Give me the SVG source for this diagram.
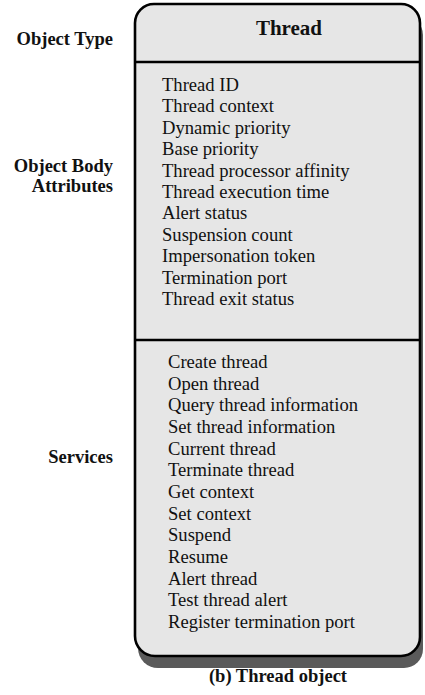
<svg xmlns="http://www.w3.org/2000/svg" width="425" height="695" viewBox="0 0 425 695">
  <style>
    .lbl { font-family: "Liberation Serif", "Times New Roman", serif; font-size: 18.5px; font-weight: bold; fill: #111; }
    .item { font-family: "Liberation Serif", "Times New Roman", serif; font-size: 18.6px; fill: #111; }
    .title { font-family: "Liberation Serif", "Times New Roman", serif; font-size: 21px; font-weight: bold; fill: #111; }
    .frame { fill: #e6e6e6; stroke: #000; stroke-width: 2.6; }
    .rule { stroke: #000; stroke-width: 2.6; }
  </style>
  <defs>
    <path id="outline" d="M135,23 A19,19 0 0 1 154,4 L401,4 A19,19 0 0 1 420,23 L420,637 A19,19 0 0 1 401,656 L155,656 A20,20 0 0 1 135,636 Z"/>
  </defs>
  <rect width="425" height="695" fill="#fff"/>

  <!-- section captions on the left -->
  <g id="captions" class="lbl" text-anchor="end">
    <text x="113" y="45">Object Type</text>
    <text x="113" y="172">Object Body</text>
    <text x="113" y="192">Attributes</text>
    <text x="113" y="463">Services</text>
  </g>

  <!-- the object box with its drop shadow -->
  <g id="thread-object">
    <use href="#outline" transform="translate(3,12)" fill="#5a5a5a"/>
    <use href="#outline" class="frame"/>
    <line class="rule" x1="135" y1="62" x2="420" y2="62"/>
    <line class="rule" x1="135" y1="340" x2="420" y2="340"/>
    <text class="title" x="289" y="35" text-anchor="middle">Thread</text>
  </g>

  <g id="attributes" class="item">
    <text x="162" y="91">Thread ID</text>
    <text x="162" y="112.4">Thread context</text>
    <text x="162" y="133.8">Dynamic priority</text>
    <text x="162" y="155.2">Base priority</text>
    <text x="162" y="176.6">Thread processor affinity</text>
    <text x="162" y="198">Thread execution time</text>
    <text x="162" y="219.4">Alert status</text>
    <text x="162" y="240.8">Suspension count</text>
    <text x="162" y="262.2">Impersonation token</text>
    <text x="162" y="283.6">Termination port</text>
    <text x="162" y="305">Thread exit status</text>
  </g>

  <g id="services" class="item">
    <text x="168" y="368">Create thread</text>
    <text x="168" y="389.7">Open thread</text>
    <text x="168" y="411.3">Query thread information</text>
    <text x="168" y="433">Set thread information</text>
    <text x="168" y="454.7">Current thread</text>
    <text x="168" y="476.3">Terminate thread</text>
    <text x="168" y="498">Get context</text>
    <text x="168" y="519.7">Set context</text>
    <text x="168" y="541.3">Suspend</text>
    <text x="168" y="563">Resume</text>
    <text x="168" y="584.7">Alert thread</text>
    <text x="168" y="606.3">Test thread alert</text>
    <text x="168" y="628">Register termination port</text>
  </g>

  <g id="figure-caption">
    <text class="lbl" x="278" y="682" text-anchor="middle">(b) Thread object</text>
  </g>
</svg>
